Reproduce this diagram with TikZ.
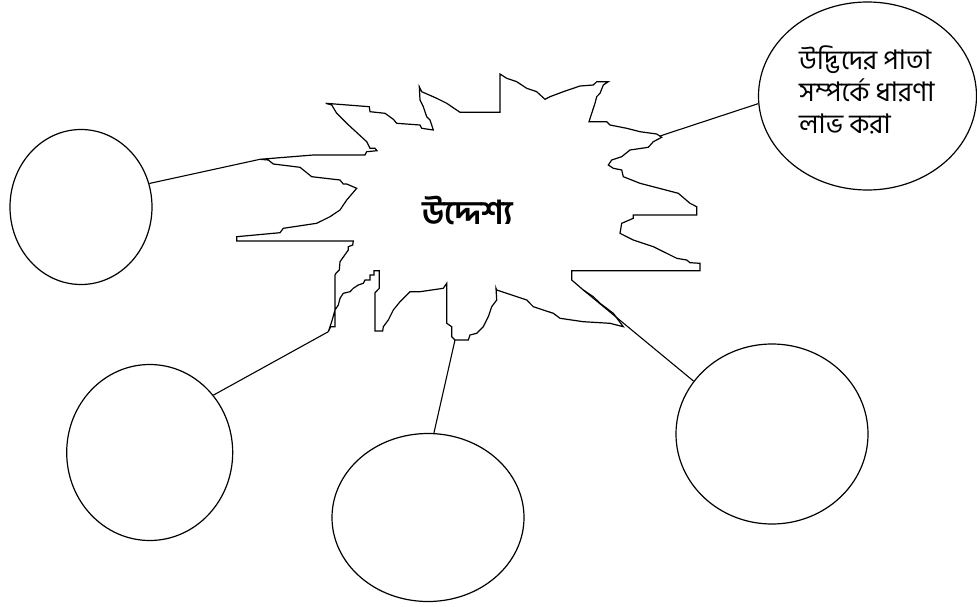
\documentclass[tikz,border=0pt]{standalone}
\usepackage{fontspec}
\newfontfamily\bnfont[Script=Bengali]{Hind Siliguri}
\usetikzlibrary{shapes.geometric}

\begin{document}
\begin{tikzpicture}[
  x=1pt, y=-1pt,
  every node/.style = {font=\bnfont\fontsize{27}{32}\selectfont},
  bubble/.style = {draw, ellipse, line width=1.2pt, inner sep=0pt},
  burst/.style  = {draw, line width=1.2pt, line join=miter},
  link/.style   = {draw, line width=1.1pt},
  aimtxt/.style = {font=\bnfont\bfseries\fontsize{33}{36}\selectfont},
  bubtxt/.style = {align=left, inner sep=0pt, anchor=west},
]
\useasboundingbox (0,0) rectangle (977,607);

%% ── Starburst ─────────────────────────────────────────────────────────────
\draw[burst] (260,159.3) -- (313.3,155) -- (365,155) -- (366.7,151.7) -- (377,150.7)
  -- (375,148.3) -- (370,148.3) -- (366.7,141.7) -- (346.7,123.3) -- (336.7,113.3)
  -- (331.7,105) -- (325.7,103.3)
  -- (369.3,106.7) -- (370,111.7) -- (385,113.3) -- (393.3,119.3) -- (396.7,123.3)
  -- (420,125) -- (421.7,128.3) -- (433.3,130)
  -- (431.7,125) -- (430,120) -- (426.7,116.7) -- (423.3,106.7) -- (420,100) -- (419.3,86.7)
  -- (421.7,91.7) -- (436.7,98.3) -- (446.7,103.3) -- (460,112.3) -- (500,112.3) -- (500,74)
  -- (506.7,78.3) -- (516.7,81.7) -- (526.7,88.3) -- (536.7,91.7) -- (545,99.3) -- (550,96.7)
  -- (563.3,91.7) -- (580,86) -- (593.3,85) -- (596.7,81.7) -- (608.3,81.7)
  -- (603.3,85) -- (600,93.3) -- (596.7,96.7) -- (595,103.3) -- (591.7,113.3) -- (589,121.7)
  -- (606.7,121.7) -- (610,125) -- (626.7,128.3) -- (640,131.7) -- (656.7,134) -- (661.7,137.3)
  -- (653.3,141.7) -- (648.3,147.3) -- (630,150) -- (621.7,156.7) -- (611.7,160) -- (608.3,165)
  -- (613.3,168.3) -- (621.7,170) -- (623.3,176.7) -- (640,183.3) -- (678.3,193.3)
  -- (690,203.3) -- (696.7,206.7) -- (696.7,215)
  -- (633.3,215) -- (633.3,218.3) -- (621.7,223.3) -- (620,233.3) -- (626.7,236.7)
  -- (633.3,240) -- (653.3,246.7) -- (666.7,253.3) -- (676.7,258.3) -- (686.7,260)
  -- (690,262.7) -- (700,263.3)
  -- (700,270.7) -- (571.7,270.7) -- (571.7,280) -- (583.3,290) -- (593.3,296.7)
  -- (600,303.3) -- (613.3,313.3) -- (623.3,326.7)
  -- (610,323.3) -- (583.3,321.7) -- (560,318.3) -- (553.3,313.3) -- (533.3,306.7)
  -- (526.7,300) -- (506.7,293.3) -- (496.7,290) -- (496,288.3)
  -- (496.7,300) -- (491.7,306.7) -- (488.3,316.7) -- (483.3,326.7) -- (476.7,333.3)
  -- (470,335) -- (468.3,340) -- (455,340)
  -- (451.7,336.7) -- (451.7,326.7) -- (446.7,323.3) -- (446.7,283.3)
  -- (443.3,288.3) -- (420,291.7) -- (410,291.7) -- (400,301.7) -- (393.3,310)
  -- (388.3,320) -- (383.3,326.7) -- (382.7,331) -- (375,331)
  -- (375,292.7) -- (379.3,288.3) -- (379.3,270.7) -- (374,270.7)
  -- (374,275) -- (370,275) -- (370,280) -- (365,280) -- (363.3,283.3) -- (358.3,285)
  -- (353.3,288.3) -- (350,291.7) -- (343.3,293.3) -- (340,298.3) -- (338.3,305)
  -- (335,310) -- (331.7,321.7) -- (328.3,331.7)
  -- (330.7,326.7) -- (335,326.7) -- (335,275) -- (336,273.3) -- (339.3,270) -- (340,261.7)
  -- (348.3,250) -- (348.3,246.7) -- (352.7,245) -- (353.3,241)
  -- (236.7,241) -- (236.7,236.7)
  -- (280,232.7) -- (283.3,228.3) -- (316.7,223.3) -- (330,216.7) -- (340,210)
  -- (346.7,200) -- (356.7,188.3) -- (346.7,184) -- (343.3,184) -- (340,180)
  -- (311.7,176.7) -- (300,167.3) -- (273.3,164) -- (268.3,160) -- cycle;

\node[aimtxt] (aim) at (468,210) {উদ্দেশ্য};

%% ── Circles ───────────────────────────────────────────────────────────────
\node[bubble, minimum width=142, minimum height=155] (cirL)  at (81,207)    {};
\node[bubble, minimum width=218, minimum height=188] (cirTR) at (867.5,96)  {};
\node[bubble, minimum width=166, minimum height=176] (cirBL) at (149.7,452.5) {};
\node[bubble, minimum width=192, minimum height=168] (cirB)  at (428,517.5) {};
\node[bubble, minimum width=192, minimum height=180] (cirBR) at (772,434)   {};

\node[bubtxt] (goal) at (799,90) {উদ্ভিদের পাতা\\সম্পর্কে ধারণা\\লাভ করা};

%% ── Connectors ────────────────────────────────────────────────────────────
\coordinate (tipL)  at (260,159.3);
\coordinate (tipTR) at (660,136);
\coordinate (tipBL) at (328.3,331.7);
\coordinate (tipB)  at (455,340);
\coordinate (tipBR) at (583.3,290);

\draw[link] (cirL.19)   -- (tipL);
\draw[link] (cirTR.184) -- (tipTR);
\draw[link] (cirBL.42)  -- (tipBL);
\draw[link] (cirB.86)   -- (tipB);
\draw[link] (cirBR.146) -- (tipBR);

\end{tikzpicture}
\end{document}
